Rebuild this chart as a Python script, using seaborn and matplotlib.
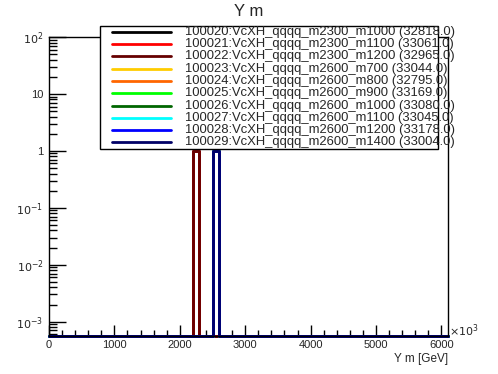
import numpy as np
import pandas as pd
import seaborn as sns
import matplotlib
matplotlib.use("Agg")
import matplotlib.pyplot as plt
from matplotlib.ticker import FixedLocator, NullFormatter
from matplotlib.lines import Line2D
from matplotlib.patches import Rectangle

# datos de las muestras
ids = ["100020", "100021", "100022", "100023", "100024",
       "100025", "100026", "100027", "100028", "100029"]
m_y = [2300, 2300, 2300, 2600, 2600, 2600, 2600, 2600, 2600, 2600]
m_x = [1000, 1100, 1200, 700, 800, 900, 1000, 1100, 1200, 1400]
n_events = [32818.0, 33061.0, 32965.0, 33044.0, 32795.0,
            33169.0, 33080.0, 33045.0, 33178.0, 33004.0]
# bin (borde inferior) donde cae la masa reconstruida, altura normalizada
peak_bin = [2200, 2200, 2200, 2500, 2500, 2500, 2500, 2500, 2500, 2500]
peak_val = [1.0] * 10
colores = ["#000000", "#ff0000", "#660000", "#ffcc00", "#ff6600",
           "#00ff00", "#006600", "#00ffff", "#0000ff", "#000066"]

ymin, ymax = 5.6e-4, 100
bins = np.arange(0, 6200, 100)

filas = []
for i in range(len(ids)):
    nombre = "%s:VcXH_qqqq_m%d_m%d (%.1f)" % (ids[i], m_y[i], m_x[i], n_events[i])
    vals = np.full(len(bins), ymin)
    vals[list(bins).index(peak_bin[i])] = peak_val[i]
    for b, v in zip(bins, vals):
        filas.append({"x": b, "y": v, "muestra": nombre})
df = pd.DataFrame(filas)
nombres = list(dict.fromkeys(df["muestra"]))

sns.set_style("ticks")
plt.rcParams["font.family"] = ["Liberation Sans", "DejaVu Sans"]

W, H = 498, 374
fig = plt.figure(figsize=(W/100, H/100), dpi=100)
ax = fig.add_axes([49/W, 1-336/H, (448-49)/W, (336-37)/H])

sns.lineplot(data=df, x="x", y="y", hue="muestra", hue_order=nombres,
             palette=colores, drawstyle="steps-post", estimator=None,
             sort=True, linewidth=2, ax=ax, legend=False, clip_on=False)

ax.set_yscale("log")
ax.set_xlim(0, 6100)
ax.set_ylim(ymin, ymax)

ax.set_yticks([1e-3, 1e-2, 1e-1, 1, 10, 100])
ax.set_yticklabels([r"$10^{-3}$", r"$10^{-2}$", r"$10^{-1}$", "1", "10", r"$10^{2}$"])
menores = [k * 10.0**e for e in range(-4, 2) for k in range(2, 10)]
ax.yaxis.set_minor_locator(FixedLocator(menores))
ax.yaxis.set_minor_formatter(NullFormatter())
ax.set_xticks([0, 1000, 2000, 3000, 4000, 5000, 6000])
ax.xaxis.set_minor_locator(FixedLocator(list(range(0, 6101, 200))))

ax.tick_params(axis="both", which="both", direction="in", labelsize=8,
               width=1, top=False, right=False, color="black")
ax.tick_params(axis="y", which="major", length=12, pad=4)
ax.tick_params(axis="y", which="minor", length=6)
ax.tick_params(axis="x", which="major", length=8, pad=3)
ax.tick_params(axis="x", which="minor", length=4)
for s in ax.spines.values():
    s.set_linewidth(1)
    s.set_color("black")

ax.set_xlabel("")
ax.set_ylabel("")
fig.text(448/W, 1-359/H, "Y m [GeV]", ha="right", va="center", fontsize=8.5)
fig.text(449/W, 1-331/H, r"$\times10^{3}$", ha="left", va="center", fontsize=8)
fig.text(0.5, 1-12/H, "Y m", ha="center", va="center", fontsize=12)

# leyenda estilo ROOT (el texto se sale de la caja)
fig.add_artist(Rectangle((100/W, 1-149/H), (438-100)/W, (149-26)/H,
                         transform=fig.transFigure, facecolor="white",
                         edgecolor="black", linewidth=1, zorder=5))
for i, (nom, c) in enumerate(zip(nombres, colores)):
    yy = 1 - (31.7 + i*12.3)/H
    fig.add_artist(Line2D([112/W, 171/W], [yy, yy], transform=fig.transFigure,
                          color=c, linewidth=2, zorder=6))
    fig.text(185/W, yy, nom, ha="left", va="center", fontsize=9.4, zorder=6)

fig.savefig("out.png", dpi=100)
